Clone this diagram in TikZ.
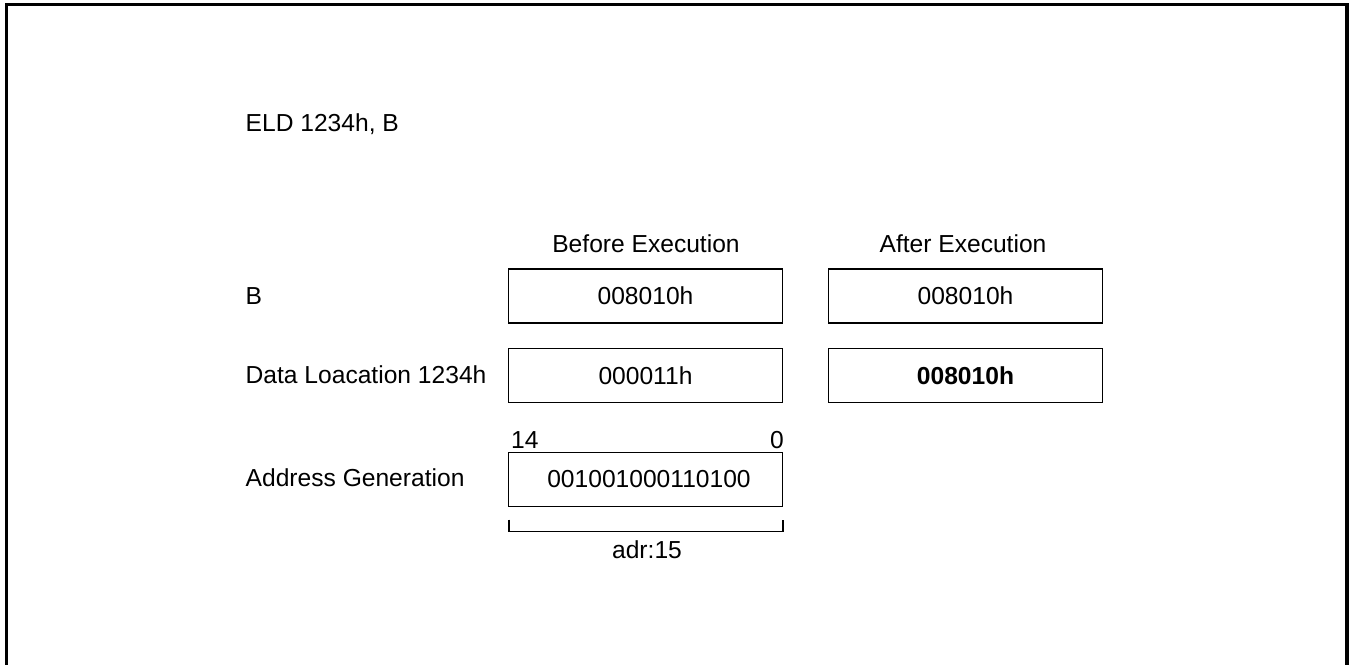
\documentclass[tikz,border=0pt]{standalone}
\usepackage{fontspec}
\setmainfont{Liberation Sans}
\begin{document}
\begin{tikzpicture}[x=1pt,y=-1pt,
  txt/.style={inner sep=0pt,font=\fontsize{24.6}{29}\selectfont},
  lbl/.style={txt,anchor=base west},
  ctr/.style={txt,anchor=base},
  regbox/.style={draw,line width=1.2pt,minimum width=274pt,minimum height=54pt,inner sep=0pt,font=\fontsize{24.6}{29}\selectfont},
  frameline/.style={line width=3.2pt},
  bracketline/.style={line width=1.2pt}]
\useasboundingbox (0,0) rectangle (1349,664);
\draw[frameline] (6.5,670) -- (6.5,4.8) -- (1347,4.8) -- (1347,670);

\node[lbl] (title) at (245.5,131.5) {ELD 1234h, B};
\node[ctr] (before) at (646,252) {Before Execution};
\node[ctr] (after) at (963,252) {After Execution};

\node[lbl] (lB) at (245.5,304.5) {B};
\node[lbl] (lData) at (245.5,383) {Data Loacation 1234h};
\node[lbl] (lAddr) at (245.5,486) {Address Generation};

\node[regbox] (bB) at (645.5,296) {008010h};
\node[regbox] (aB) at (965.5,296) {008010h};
\node[regbox] (bD) at (645.5,375.5) {000011h};
\node[regbox] (aD) at (965.5,375.5) {\bfseries 008010h};
\node[regbox] (adr) at (645.5,479.5) {\hspace*{7pt}001001000110100};

\node[lbl] (hi) at (511,448) {14};
\node[txt,anchor=base east] (lo) at (784,448) {0};

\coordinate (b1) at (509,519.5);
\coordinate (b2) at (509,531.5);
\coordinate (b3) at (783,531.5);
\coordinate (b4) at (783,519.5);
\draw[bracketline] (b1) -- (b2) -- (b3) -- (b4);
\node[ctr] (adrlbl) at (647,558) {adr:15};
\end{tikzpicture}
\end{document}
